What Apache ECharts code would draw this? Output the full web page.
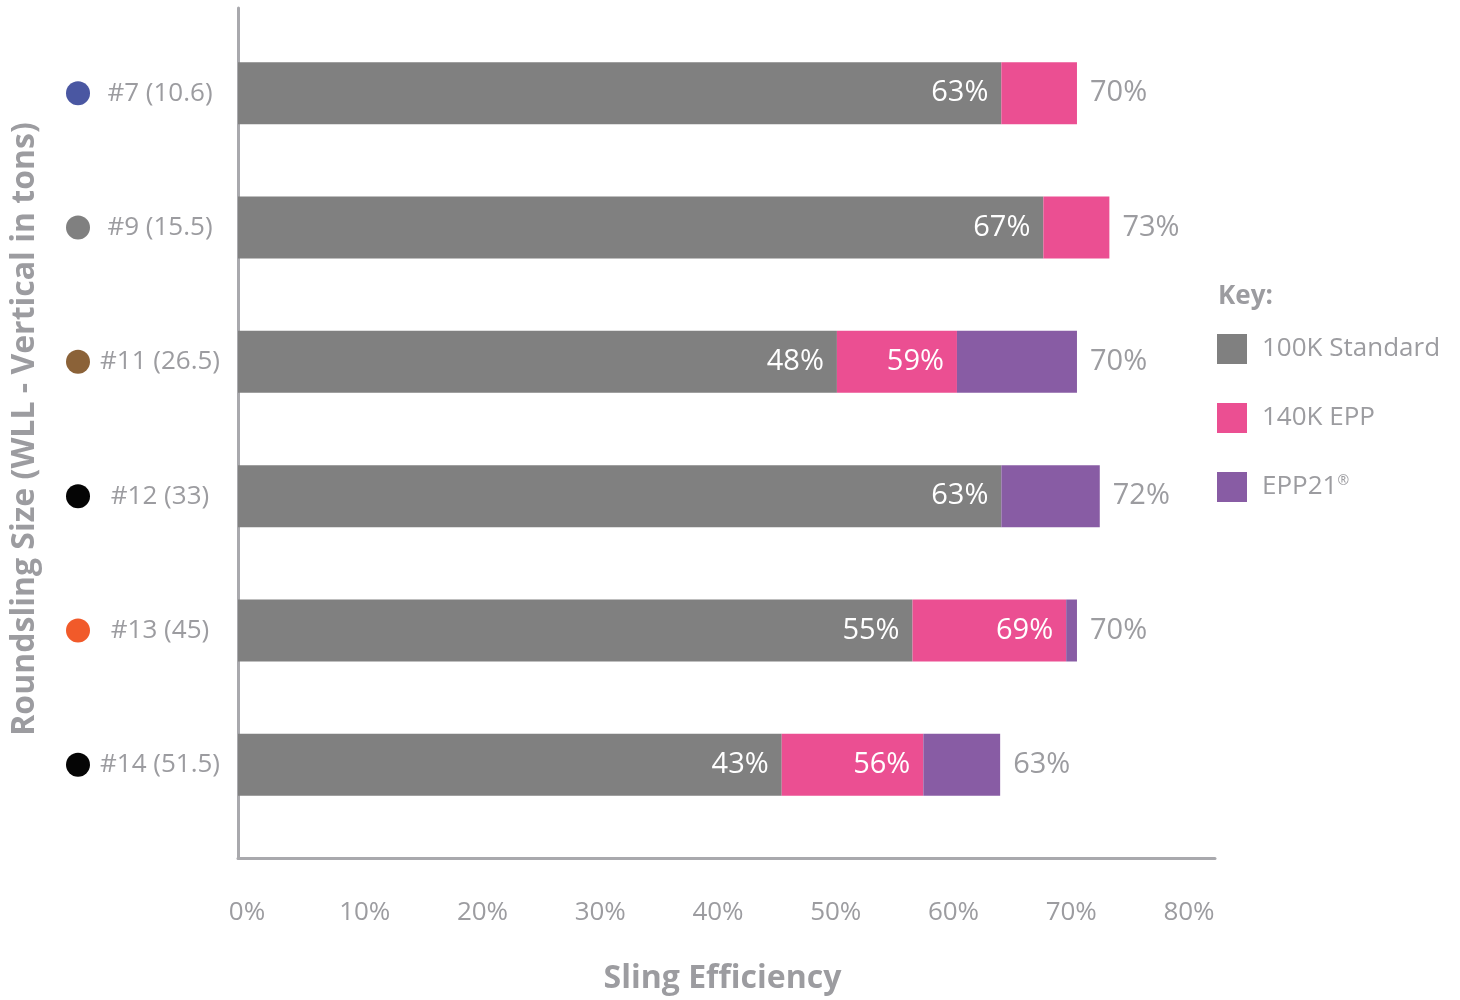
<!DOCTYPE html>
<html>
<head>
<meta charset="utf-8">
<script src="https://cdn.jsdelivr.net/npm/echarts@6/dist/echarts.min.js"></script>
<style>
  html, body { margin: 0; padding: 0; background: #ffffff; }
  #chart { width: 1460px; height: 1000px; }
</style>
</head>
<body>
<div id="chart"></div>
<script>
// ---- data ----
const categories = ['#7 (10.6)', '#9 (15.5)', '#11 (26.5)', '#12 (33)', '#13 (45)', '#14 (51.5)'];
const dotColors = ['#4a57a2', '#808080', '#8b6238', '#050505', '#f15a2a', '#050505'];
// segment lengths (in % of the x scale)
const standard = [63.6, 67.1, 49.9, 63.6, 56.2, 45.3];
const epp      = [6.3, 5.5, 10.0, 0, 12.8, 11.8];
const epp21    = [0, 0, 10.0, 8.2, 0.9, 6.4];
// printed labels
const standardLabels = ['63%', '67%', '48%', '63%', '55%', '43%'];
const eppLabels      = ['', '', '59%', '', '69%', '56%'];
const totalLabels    = ['70%', '73%', '70%', '72%', '70%', '63%'];
const seriesNames = ['100K Standard', '140K EPP', 'EPP21'];
const xTickMax = 80;
const xTickStep = 10;

const totals = standard.map((v, i) => v + epp[i] + epp21[i]);

const FONT = '"Open Sans", "Noto Sans", sans-serif';
const GRAY_TEXT = '#9c9ca0';
const AXIS_COLOR = '#a9a9ad';

const rich = {
  t: { width: 140, align: 'center', fontSize: 26, color: GRAY_TEXT, fontFamily: FONT }
};
dotColors.forEach((c, i) => {
  rich['d' + i] = { width: 24, height: 24, borderRadius: 12, backgroundColor: c };
});

const chart = echarts.init(document.getElementById('chart'), null, { renderer: 'canvas' });
chart.setOption({
  animation: false,
  backgroundColor: '#ffffff',
  textStyle: { fontFamily: FONT },
  title: {
    text: 'Key:', left: 1218, top: 284, padding: 0,
    textStyle: { fontSize: 26, fontWeight: 'bold', color: GRAY_TEXT, fontFamily: FONT }
  },
  legend: {
    data: seriesNames,
    orient: 'vertical', left: 1217, top: 334, padding: 0,
    itemWidth: 30, itemHeight: 30, itemGap: 39, icon: 'rect',
    formatter: n => n === 'EPP21' ? 'EPP21{sup|®}' : n,
    textStyle: {
      fontSize: 26, color: GRAY_TEXT, fontFamily: FONT, padding: [0, 0, 0, 10],
      rich: { sup: { fontSize: 14, color: GRAY_TEXT, fontFamily: FONT, padding: [0, 0, 12, 0] } }
    }
  },
  grid: [
    { left: 238, top: 8, width: 977, height: 854 },
    { left: 238, top: 26, width: 977, height: 806 },
    { left: 247, top: 8, width: 942, height: 854 }
  ],
  xAxis: [
    {
      gridIndex: 0, type: 'value', min: 0, max: 81.4,
      axisLine: { show: true, lineStyle: { color: AXIS_COLOR, width: 3 } },
      axisTick: { show: false }, axisLabel: { show: false }, splitLine: { show: false },
      name: 'Sling Efficiency', nameLocation: 'middle', nameGap: 105,
      nameTextStyle: { fontSize: 32, fontWeight: 'bold', color: GRAY_TEXT, fontFamily: FONT, padding: [0, 8, 0, 0] }
    },
    { gridIndex: 1, type: 'value', min: 0, max: 81.4, show: false },
    {
      gridIndex: 2, type: 'value', min: 0, max: xTickMax, interval: xTickStep,
      axisLine: { show: false }, axisTick: { show: false }, splitLine: { show: false },
      axisLabel: { formatter: '{value}%', margin: 38, fontSize: 26, color: GRAY_TEXT, fontFamily: FONT }
    }
  ],
  yAxis: [
    {
      gridIndex: 0, type: 'value', min: 0, max: 1,
      axisLine: { show: true, lineStyle: { color: AXIS_COLOR, width: 3 } },
      axisTick: { show: false }, axisLabel: { show: false }, splitLine: { show: false }
    },
    {
      gridIndex: 1, type: 'category', data: categories, inverse: true,
      axisLine: { show: false }, axisTick: { show: false }, splitLine: { show: false },
      axisLabel: {
        margin: 172, align: 'left',
        formatter: (v, i) => '{d' + i + '|}{t|' + v + '}',
        rich: rich
      },
      name: 'Roundsling Size (WLL - Vertical in tons)', nameLocation: 'middle', nameGap: 197, nameRotate: 90,
      nameTextStyle: { fontSize: 32, fontWeight: 'bold', color: GRAY_TEXT, fontFamily: FONT }
    },
    { gridIndex: 2, type: 'value', show: false }
  ],
  series: [
    {
      type: 'bar', name: 'total', xAxisIndex: 1, yAxisIndex: 1, data: totals,
      barWidth: 62, barGap: '-100%', silent: true, z: 1,
      itemStyle: { color: 'rgba(0,0,0,0)' },
      label: {
        show: true, position: 'right', distance: 13, fontSize: 29, color: GRAY_TEXT, fontFamily: FONT,
        formatter: p => totalLabels[p.dataIndex]
      }
    },
    {
      type: 'bar', name: seriesNames[0], xAxisIndex: 1, yAxisIndex: 1, stack: 's', data: standard,
      barWidth: 62, barGap: '-100%', z: 2,
      itemStyle: { color: '#808080' },
      label: {
        show: true, position: 'insideRight', distance: 13, fontSize: 29, color: '#ffffff', fontFamily: FONT,
        formatter: p => standardLabels[p.dataIndex]
      }
    },
    {
      type: 'bar', name: seriesNames[1], xAxisIndex: 1, yAxisIndex: 1, stack: 's', data: epp,
      barWidth: 62, barGap: '-100%', z: 2,
      itemStyle: { color: '#eb4f92' },
      label: {
        show: true, position: 'insideRight', distance: 13, fontSize: 29, color: '#ffffff', fontFamily: FONT,
        formatter: p => eppLabels[p.dataIndex]
      }
    },
    {
      type: 'bar', name: seriesNames[2], xAxisIndex: 1, yAxisIndex: 1, stack: 's', data: epp21,
      barWidth: 62, barGap: '-100%', z: 2,
      itemStyle: { color: '#885ca4' }
    }
  ]
});
</script>
</body>
</html>
